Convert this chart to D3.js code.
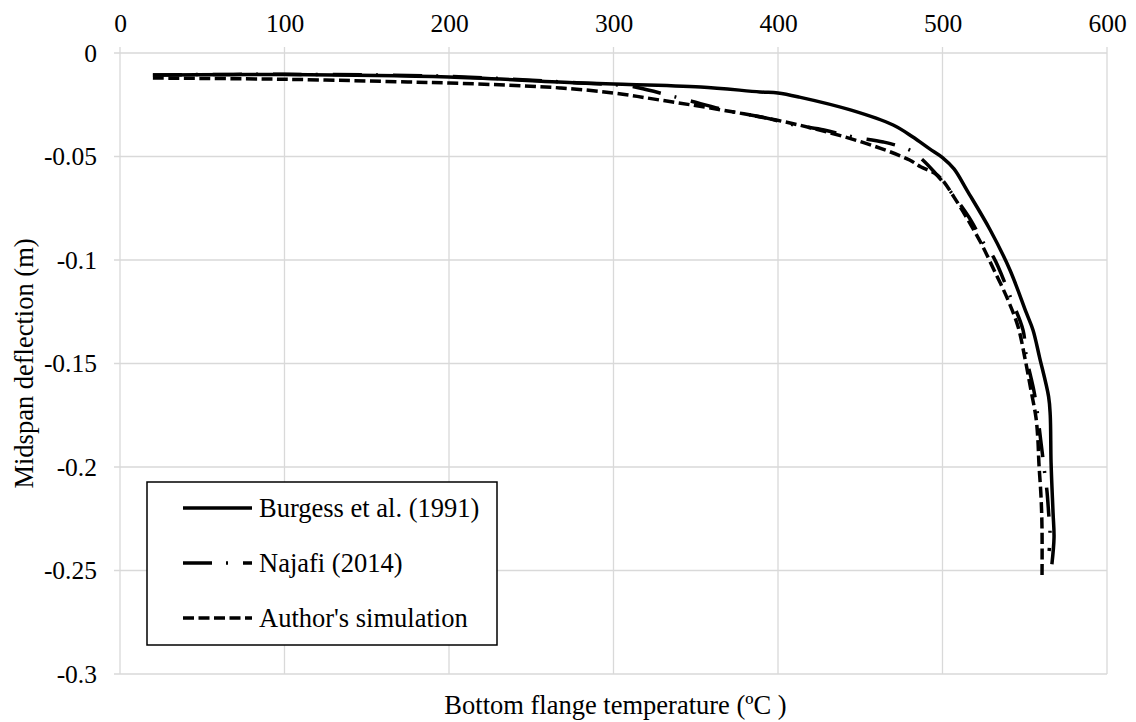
<!DOCTYPE html>
<html><head><meta charset="utf-8">
<script src="https://cdn.jsdelivr.net/npm/d3@7"></script>
<style>body{margin:0;background:#fff}</style>
</head><body>
<svg id="chart" width="1136" height="722"></svg>
<script>
// ---- data ----
const burgessT = [20,100,200,280,300,353,389,400,413,444,470,482,492,500,507,515,529,541,551,555,559,564.5,565.5,566,567.2,567.8,566.5];
const burgessD = [-0.0106,-0.0104,-0.0116,-0.0145,-0.015,-0.0164,-0.0188,-0.0193,-0.0213,-0.0275,-0.0348,-0.0406,-0.0462,-0.0505,-0.056,-0.0665,-0.0855,-0.1048,-0.1256,-0.1338,-0.147,-0.166,-0.175,-0.198,-0.222,-0.234,-0.247];
const najafiT = [20,100,200,280,310,321,338,347,373,390,410,428,446,464,481,488,495,505,516,525,531,542,549,551,556,560,562.3,563.5,564.5,565.4,564.8];
const najafiD = [-0.0106,-0.0103,-0.0113,-0.0145,-0.016,-0.0179,-0.0213,-0.0232,-0.0285,-0.0309,-0.0348,-0.0372,-0.0406,-0.043,-0.0472,-0.0517,-0.0575,-0.0671,-0.0792,-0.0918,-0.0986,-0.1193,-0.134,-0.1469,-0.165,-0.189,-0.204,-0.2116,-0.222,-0.233,-0.2406];
const authorT = [20,100,175,200,235,268,300,328,359,399,430,460,480,487,495,500,507,515.5,523.4,531.3,539.8,546,550,553.8,556.8,558,558.6,559.9,560.5,560.5];
const authorD = [-0.0121,-0.0127,-0.014,-0.0145,-0.0155,-0.0169,-0.0193,-0.0227,-0.0266,-0.0324,-0.0382,-0.0454,-0.0517,-0.0551,-0.058,-0.0614,-0.0696,-0.0807,-0.0918,-0.1048,-0.1193,-0.1324,-0.147,-0.163,-0.176,-0.187,-0.198,-0.2145,-0.23,-0.253];
const seriesNames = ["Burgess et al. (1991)", "Najafi (2014)", "Author's simulation"];
const xTicks = [0,100,200,300,400,500,600];
const xTickLabels = ["0","100","200","300","400","500","600"];
const yTicks = [0,-0.05,-0.1,-0.15,-0.2,-0.25,-0.3];
const yTickLabels = ["0","-0.05","-0.1","-0.15","-0.2","-0.25","-0.3"];
const xTitle = "Bottom flange temperature (\u00BAC )";
const yTitle = "Midspan deflection (m)";

// ---- layout ----
const W = 1136, H = 722;
const m = {left:120, right:29, top:53, bottom:48};
const FONT = "Liberation Serif";
const svg = d3.select("#chart");
const x = d3.scaleLinear().domain([0,600]).range([m.left, W - m.right]);
const y = d3.scaleLinear().domain([0,-0.3]).range([m.top, H - m.bottom]);
const grid = "#d9d9d9";

function txt(sel, size) {
  sel.attr("font-family", FONT).attr("font-size", size).attr("fill", "#000")
     .style("font-family", FONT, "important");
}

// gridlines
const g = svg.append("g");
g.selectAll("line.v").data(xTicks).join("line")
  .attr("x1", d => x(d)).attr("x2", d => x(d))
  .attr("y1", m.top - 6).attr("y2", H - m.bottom)
  .attr("stroke", grid).attr("stroke-width", 1.3);
g.selectAll("line.h").data(yTicks).join("line")
  .attr("x1", m.left - 6).attr("x2", W - m.right)
  .attr("y1", d => y(d)).attr("y2", d => y(d))
  .attr("stroke", grid).attr("stroke-width", 1.3);

// axes labels via d3 axes
const xAxis = d3.axisTop(x).tickValues(xTicks).tickSize(0).tickPadding(0)
  .tickFormat((d,i) => xTickLabels[i]);
const gx = svg.append("g").attr("transform", `translate(0,${m.top - 21})`).call(xAxis);
gx.select(".domain").remove();
gx.selectAll("text").call(txt, 25.5);

const yAxis = d3.axisLeft(y).tickValues(yTicks).tickSize(0).tickPadding(0)
  .tickFormat((d,i) => yTickLabels[i]);
const gy = svg.append("g").attr("transform", `translate(${m.left - 23},0)`).call(yAxis);
gy.select(".domain").remove();
gy.selectAll("text").call(txt, 25.5);

// titles
svg.append("text").attr("x", (m.left + W - m.right)/2 + 2).attr("y", 714)
  .attr("text-anchor", "middle").call(txt, 26.5)
  .text(xTitle);
svg.append("text").attr("transform", `translate(33,${(m.top + H - m.bottom)/2}) rotate(-90)`)
  .attr("text-anchor", "middle").call(txt, 26.5)
  .text(yTitle);

// series
const styles = [
  {dash: null},
  {dash: "29,14,2,15"},
  {dash: "11,4.5"}
];
const series = [
  burgessT.map((t,i) => [t, burgessD[i]]),
  najafiT.map((t,i) => [t, najafiD[i]]),
  authorT.map((t,i) => [t, authorD[i]])
];
const line = d3.line().x(d => x(d[0])).y(d => y(d[1])).curve(d3.curveCatmullRom.alpha(0.5));
series.forEach((s, i) => {
  svg.append("path").datum(s).attr("d", line)
    .attr("fill", "none").attr("stroke", "#000").attr("stroke-width", 3.5)
    .attr("stroke-dasharray", styles[i].dash);
});

// legend
const lg = svg.append("g");
lg.append("rect").attr("x", 147).attr("y", 482).attr("width", 350).attr("height", 163)
  .attr("fill", "#fff").attr("stroke", "#000").attr("stroke-width", 1.5);
const rowsY = [508, 563, 618];
seriesNames.forEach((name, i) => {
  lg.append("line").attr("x1", 183).attr("x2", 252).attr("y1", rowsY[i]).attr("y2", rowsY[i])
    .attr("stroke", "#000").attr("stroke-width", 3.5).attr("stroke-dasharray", styles[i].dash);
  lg.append("text").attr("x", 259).attr("y", rowsY[i]).attr("dy", "0.33em")
    .call(txt, 26.5).text(name);
});
</script>
</body></html>
